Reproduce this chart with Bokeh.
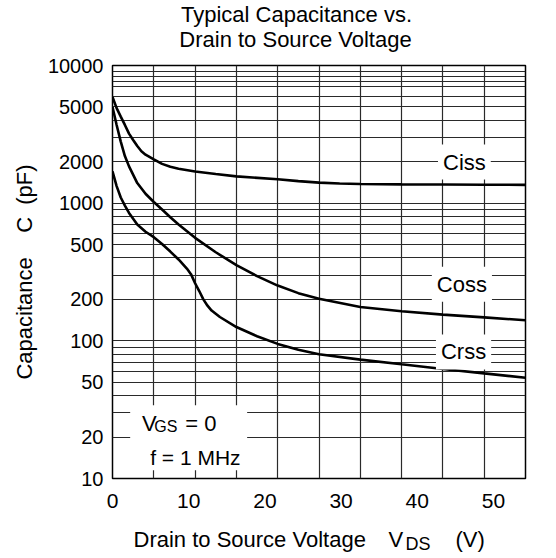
from bokeh.plotting import figure
from bokeh.layouts import column
from bokeh.models import Range1d, FixedTicker, LinearAxis, Label, BoxAnnotation
from bokeh.core.properties import value
from bokeh.embed import file_html
from bokeh.resources import INLINE

FONT = "Liberation Sans"

# ---- data ----
x_grid_vals = [0, 5, 10, 15, 20, 25, 30, 35, 40, 45, 50]
x_tick_vals = [0, 10, 20, 30, 40, 50]
y_tick_vals = [10, 20, 50, 100, 200, 500, 1000, 2000, 5000, 10000]
y_tick_labels = ["10", "20", "50", "100", "200", "500", "1000", "2000", "5000", "10000"]
y_minor_vals = [30, 40, 60, 70, 80, 90, 300, 400, 600, 700, 800, 900,
                3000, 4000, 6000, 7000, 7700, 8350, 9000]

ciss_v = [0, 0.5, 1, 1.5, 2, 2.5, 3, 3.5, 4, 5, 6, 7, 8, 10, 12.5, 15, 20, 22.5, 25, 27.5,
          30, 35, 40, 45, 50]
ciss_pf = [5900, 4900, 4250, 3700, 3200, 2880, 2600, 2380, 2250, 2080, 1930, 1840, 1780, 1700,
           1630, 1565, 1490, 1445, 1410, 1390, 1378, 1370, 1366, 1362, 1358]

coss_v = [0, 0.5, 1, 1.5, 2, 3, 4, 5, 6, 7, 8, 10, 12.5, 15, 17.5, 20, 22.5, 25, 30, 35, 40, 45, 50]
coss_pf = [5000, 3700, 2800, 2200, 1850, 1400, 1170, 1020, 900, 790, 700, 560, 440, 355, 295,
           252, 222, 202, 176, 164, 155, 148, 141]

crss_v = [0, 0.5, 1, 1.5, 2, 3, 4, 5, 6, 7, 8, 9, 9.5, 10, 10.5, 11, 11.5, 12, 13, 15, 17.5,
          20, 22.5, 25, 30, 35, 40, 45, 50]
crss_pf = [1700, 1330, 1100, 960, 850, 700, 620, 566, 505, 445, 390, 335, 305, 262, 230, 200,
           180, 166, 149, 126, 108, 95, 86, 80, 73, 67.5, 62.5, 58, 54]

title_lines = ["Typical Capacitance vs.", "Drain to Source Voltage"]
x_label_parts = ["Drain to Source Voltage", "V", "DS", "(V)"]


def strip(h, top):
    f = figure(width=556, height=h, x_range=Range1d(0, 556), y_range=Range1d(top + h, top),
               output_backend="svg", toolbar_location=None, min_border=0, frame_align=False)
    f.axis.visible = False
    f.grid.visible = False
    f.outline_line_color = None
    f.background_fill_color = "white"
    f.border_fill_color = "white"
    return f


# ---- title strip (page y 0..52) ----
p_top = strip(52, 0)
p_top.text(x=[296, 295], y=[14, 38.5], text=title_lines, text_align="center",
           text_baseline="middle", text_font=value(FONT), text_font_size="22px",
           text_color="black")

# ---- main plot (page y 52..522) ----
p = figure(frame_width=413, frame_height=413,
           x_range=Range1d(0, 50), y_range=Range1d(10, 10000), y_axis_type="log",
           output_backend="svg", toolbar_location=None, frame_align=False,
           min_border_left=112, min_border_right=31, min_border_top=13, min_border_bottom=44)
p.background_fill_color = "white"
p.border_fill_color = "white"
p.outline_line_color = "black"
p.outline_line_width = 1.5

main_x = p.below[0]
main_x.ticker = FixedTicker(ticks=x_grid_vals)
main_x.visible = False

p.extra_x_ranges = {"lbl": Range1d(0, 54.2)}
lbl_axis = LinearAxis(x_range_name="lbl", ticker=FixedTicker(ticks=x_tick_vals))
lbl_axis.axis_line_color = None
lbl_axis.major_tick_line_color = None
lbl_axis.minor_tick_line_color = None
lbl_axis.major_tick_out = 0
lbl_axis.major_label_standoff = 15
lbl_axis.major_label_text_font = FONT
lbl_axis.major_label_text_font_size = "21px"
lbl_axis.major_label_text_color = "black"
p.add_layout(lbl_axis, "below")

yax = p.left[0]
yax.ticker = FixedTicker(ticks=y_tick_vals, minor_ticks=y_minor_vals)
yax.major_label_overrides = {str(v): l for v, l in zip(y_tick_vals, y_tick_labels)}
yax.axis_line_color = None
yax.major_tick_line_color = None
yax.minor_tick_line_color = None
yax.major_tick_out = 0
yax.major_label_standoff = 5
yax.major_label_text_font = FONT
yax.major_label_text_font_size = "20px"
yax.major_label_text_color = "black"
yax.axis_label = "Capacitance\u00a0\u00a0\u00a0\u00a0C\u00a0\u00a0(pF)"
yax.axis_label_text_font = FONT
yax.axis_label_text_font_size = "22px"
yax.axis_label_text_font_style = "normal"
yax.axis_label_text_color = "black"
yax.axis_label_standoff = 8

for g in (p.xgrid, p.ygrid):
    g.grid_line_color = "#2a2a2a"
    g.grid_line_width = 1.2
    g.grid_line_alpha = 1
p.ygrid.minor_grid_line_color = "#2a2a2a"
p.ygrid.minor_grid_line_width = 1.2

for xv, yv in ((ciss_v, ciss_pf), (coss_v, coss_pf), (crss_v, crss_pf)):
    p.line(xv, yv, line_color="black", line_width=2.6)

for txt, lx, ly in (("Ciss", 42.6, 1990), ("Coss", 42.3, 258), ("Crss", 42.5, 83)):
    p.add_layout(Label(x=lx, y=ly, text=txt, text_align="center", text_baseline="middle",
                       text_font=FONT, text_font_size="22px", text_color="black",
                       background_fill_color="white", background_fill_alpha=1.0, padding=5))

p.add_layout(BoxAnnotation(left=2.14, right=16.3, bottom=11.46, top=34.0,
                           fill_color="white", fill_alpha=1.0, line_alpha=0))
p.add_layout(Label(x=3.56, y=25.0, text="V", text_align="left", text_baseline="middle",
                   text_font=FONT, text_font_size="22px", text_color="black"))
p.add_layout(Label(x=5.05, y=23.9, text="GS", text_align="left", text_baseline="middle",
                   text_font=FONT, text_font_size="16px", text_color="black"))
p.add_layout(Label(x=8.8, y=25.0, text="= 0", text_align="left", text_baseline="middle",
                   text_font=FONT, text_font_size="22px", text_color="black"))
p.add_layout(Label(x=4.56, y=14.1, text="f = 1 MHz", text_align="left", text_baseline="middle",
                   text_font=FONT, text_font_size="21px", text_color="black"))

# ---- x axis label strip (page y 522..556) ----
p_bot = strip(34, 522)
p_bot.text(x=[133, 388, 405, 455], y=[538.5, 538.5, 543.5, 538.5], text=x_label_parts,
           text_align="left", text_baseline="middle", text_font=value(FONT),
           text_font_size=["22px", "22px", "18px", "22px"], text_color="black")

layout = column(p_top, p, p_bot, spacing=0)
open("out.html", "w").write(file_html(layout, INLINE))
